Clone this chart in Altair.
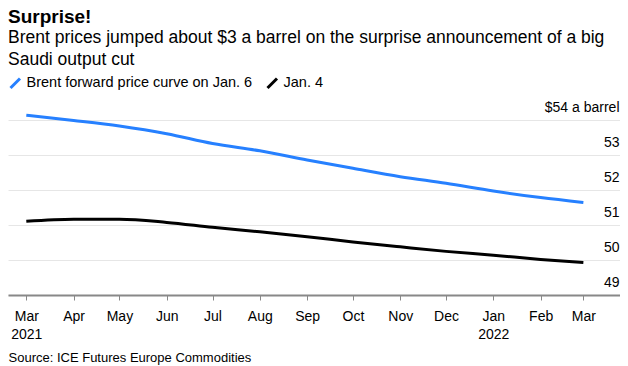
import altair as alt
import pandas as pd

months = ["2021-03-01", "2021-04-01", "2021-05-01", "2021-06-01", "2021-07-01",
          "2021-08-01", "2021-09-01", "2021-10-01", "2021-11-01", "2021-12-01",
          "2022-01-01", "2022-02-01", "2022-03-01"]
jan6 = [54.15, 54.00, 53.84, 53.62, 53.34, 53.13, 52.87, 52.63, 52.39, 52.20, 51.98, 51.79, 51.65]
jan4 = [51.11, 51.17, 51.17, 51.08, 50.94, 50.81, 50.67, 50.52, 50.38, 50.25, 50.14, 50.02, 49.93]
series_names = ["Brent forward price curve on Jan. 6", "Jan. 4"]
y_ticks = [49, 50, 51, 52, 53, 54]

rows = []
for m, a, b in zip(months, jan6, jan4):
    rows.append({"date": m + "T00:00:00", "price": a, "series": series_names[0]})
    rows.append({"date": m + "T00:00:00", "price": b, "series": series_names[1]})
df = pd.DataFrame(rows)

FONT = "Liberation Sans"

x_label_expr = ("(month(datum.value)==0 || (month(datum.value)==2 && year(datum.value)==2021))"
                " ? [timeFormat(datum.value,'%b'), timeFormat(datum.value,'%Y')]"
                " : timeFormat(datum.value,'%b')")

chart = alt.Chart(df).mark_line(strokeWidth=3, interpolate="monotone").encode(
    x=alt.X("date:T",
            scale=alt.Scale(domain=[alt.DateTime(year=2021, month=2, date=17),
                                    alt.DateTime(year=2022, month=3, date=25)]),
            axis=alt.Axis(
                title="Source: ICE Futures Europe Commodities",
                titleX=0, titleY=66, titleAnchor="start", titleAlign="left",
                titleBaseline="alphabetic", titleFontWeight="normal", titleFontSize=13,
                titleFont=FONT, titleColor="#000",
                tickCount={"interval": "month", "step": 1},
                labelExpr=x_label_expr, labelFont=FONT, labelFontSize=14,
                labelColor="#000", labelLineHeight=18, labelPadding=9,
                labelFlush=False, labelOverlap=False,
                domainColor="#888", domainWidth=2, tickColor="#888", tickSize=5,
                tickWidth=1, grid=False)),
    y=alt.Y("price:Q",
            scale=alt.Scale(domain=[49, 54.3], nice=False, zero=False),
            axis=alt.Axis(
                title=None, orient="right", values=y_ticks,
                labelExpr="datum.value==54 ? '$54 a barrel' : datum.label",
                labelAlign="right", labelBaseline="alphabetic", labelOffset=-9,
                labelPadding=-1, labelFont=FONT, labelFontSize=14, labelColor="#000",
                domain=False, ticks=False, grid=True, gridColor="#e6e6e6",
                gridWidth=1)),
    color=alt.Color("series:N",
                    scale=alt.Scale(domain=series_names, range=["#2680FF", "#000000"]),
                    legend=alt.Legend(
                        title=None, orient="none", legendX=0, legendY=-34,
                        direction="horizontal",
                        symbolType="M-1,1L1,-1", symbolStrokeWidth=3, symbolSize=90,
                        labelFont=FONT, labelFontSize=14.5, labelColor="#000",
                        labelLimit=400, columnPadding=8)),
).properties(
    width=612, height=185,
    autosize=alt.AutoSizeParams(type="none"),
    padding={"left": 0, "top": 102, "right": 0, "bottom": 70},
    title=alt.TitleParams(
        text="Surprise!",
        subtitle=["Brent prices jumped about $3 a barrel on the surprise announcement of a big",
                  "Saudi output cut"],
        anchor="start", frame="group", font=FONT, fontSize=19, fontWeight="bold",
        color="#000", subtitleFont=FONT, subtitleFontSize=17.5, subtitleColor="#000",
        subtitleLineHeight=22, subtitlePadding=2, offset=8),
).configure_view(stroke=None)

chart.save("out.html", embed_options={"renderer": "svg", "actions": False})
